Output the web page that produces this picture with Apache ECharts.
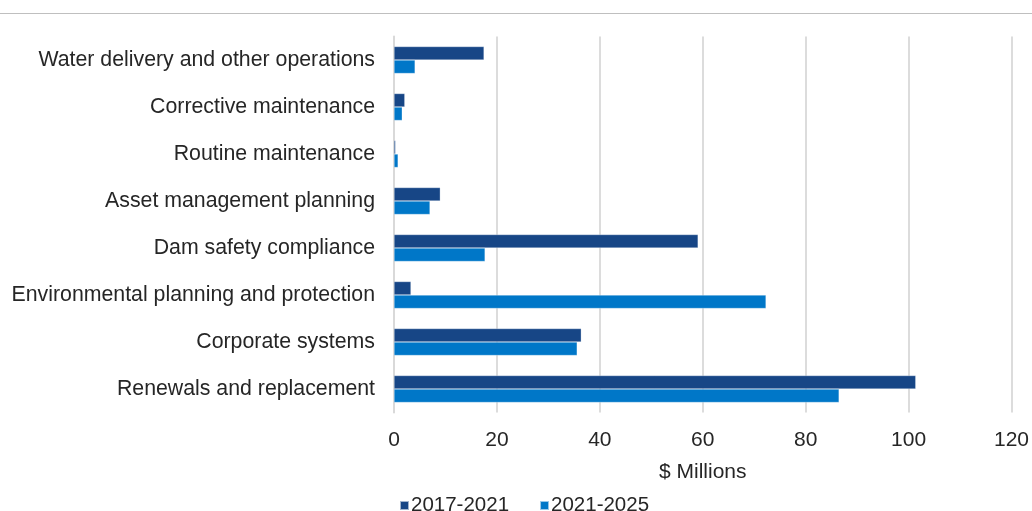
<!DOCTYPE html>
<html>
<head>
<meta charset="utf-8">
<script src="https://cdn.jsdelivr.net/npm/echarts@6/dist/echarts.min.js"></script>
<style>
  html, body { margin: 0; padding: 0; background: #fff; }
  #chart { width: 1032px; height: 511px; }
</style>
</head>
<body>
<div id="chart"></div>
<script>
// Expenditure categories, top to bottom
const categories = [
  'Water delivery and other operations',
  'Corrective maintenance',
  'Routine maintenance',
  'Asset management planning',
  'Dam safety compliance',
  'Environmental planning and protection',
  'Corporate systems',
  'Renewals and replacement'
];

const seriesNames = ['2017-2021', '2021-2025'];

// $ Millions per category
const values2017 = [17.5, 2.1, 0.3, 9.0, 59.1, 3.3, 36.4, 101.4];
const values2021 = [4.1, 1.6, 0.8, 7.0, 17.7, 72.3, 35.6, 86.5];

const xTicks = { min: 0, max: 120, interval: 20 };
const axisTitle = '$ Millions';

const colors = ['#174686', '#0077C8'];
const font = 'Liberation Sans, Arial, sans-serif';
const textColor = '#262626';

const chart = echarts.init(document.getElementById('chart'), null, { renderer: 'canvas' });

chart.setOption({
  animation: false,
  color: colors,
  textStyle: { fontFamily: font },
  graphic: [{
    type: 'line',
    shape: { x1: 0, y1: 13.5, x2: 1032, y2: 13.5 },
    style: { stroke: '#bfbfbf', lineWidth: 1 }
  }],
  grid: { left: 394, right: 20, top: 36.5, bottom: 98.5, containLabel: false },
  legend: {
    data: seriesNames,
    left: 394,
    top: 490,
    itemWidth: 9,
    itemHeight: 9,
    itemGap: 30,
    icon: 'rect',
    textStyle: { fontSize: 20.5, color: textColor, fontFamily: font, padding: [0, 0, 0, -3] }
  },
  xAxis: {
    type: 'value',
    min: xTicks.min,
    max: xTicks.max,
    interval: xTicks.interval,
    name: axisTitle,
    nameLocation: 'middle',
    nameGap: 49,
    nameTextStyle: { fontSize: 21, color: textColor, fontFamily: font },
    axisLine: { show: false },
    axisTick: { show: false },
    axisLabel: { fontSize: 21, color: textColor, margin: 17, fontFamily: font },
    splitLine: { show: true, lineStyle: { color: '#d0d0d0', width: 1.5 } }
  },
  yAxis: {
    type: 'category',
    data: categories,
    inverse: true,
    axisLine: { show: true, lineStyle: { color: '#d9d9d9', width: 2 } },
    axisTick: { show: false },
    axisLabel: { fontSize: 21.3, color: textColor, margin: 19, fontFamily: font }
  },
  series: [
    {
      name: seriesNames[0],
      type: 'bar',
      data: values2017,
      barWidth: 13.5,
      barGap: '0%',
      itemStyle: { color: colors[0], borderColor: 'rgba(255,255,255,0.6)', borderWidth: 0.5 }
    },
    {
      name: seriesNames[1],
      type: 'bar',
      data: values2021,
      barWidth: 13.5,
      barGap: '0%',
      itemStyle: { color: colors[1], borderColor: 'rgba(255,255,255,0.6)', borderWidth: 0.5 }
    }
  ]
});
</script>
</body>
</html>
